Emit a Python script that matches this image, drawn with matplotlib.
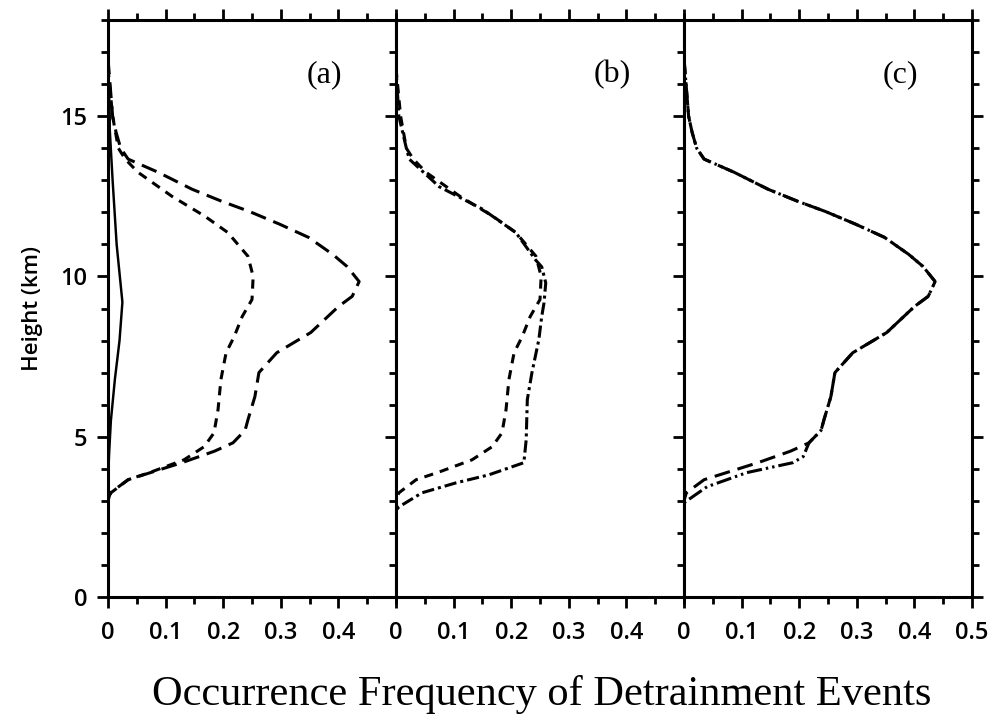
import matplotlib
matplotlib.use("Agg")
import matplotlib.pyplot as plt
from matplotlib.ticker import MultipleLocator

# long-dashed profile (panels a and c)
h_long = [16.8, 15.0, 14.5, 14.0, 13.66, 13.25, 12.72, 12.34, 12.03, 11.63, 11.22,
          10.69, 10.31, 9.84, 9.38, 9.06, 8.25, 7.62, 7.0, 6.25, 5.53, 5.2, 4.81,
          4.55, 4.2, 3.66, 3.25, 3.0]
f_long = [0.0, 0.008, 0.014, 0.022, 0.035, 0.087, 0.146, 0.198, 0.245, 0.298, 0.348,
          0.39, 0.415, 0.436, 0.424, 0.40, 0.352, 0.293, 0.262, 0.255, 0.243, 0.238, 0.217,
          0.185, 0.13, 0.035, 0.004, 0.0]

# short-dashed profile (panels a and b)
h_short = [16.5, 15.0, 14.0, 13.66, 13.25, 12.5, 11.88, 11.37, 10.63, 10.0, 9.28,
           8.75, 8.12, 7.62, 6.78, 5.84, 5.12, 4.69, 4.28, 3.9, 3.66, 3.25, 3.05]
f_short = [0.0, 0.008, 0.018, 0.03, 0.052, 0.111, 0.168, 0.208, 0.243, 0.252, 0.25,
           0.233, 0.219, 0.205, 0.196, 0.191, 0.184, 0.167, 0.132, 0.075, 0.035, 0.005, 0.0]

# solid profile (panel a)
h_solid = [16.8, 15.0, 14.6, 13.0, 11.0, 9.2, 8.0, 6.8, 5.5, 4.5, 3.6]
f_solid = [0.0, 0.003, 0.003, 0.008, 0.015, 0.025, 0.02, 0.012, 0.005, 0.002, 0.0]

# dash-dot profile (panel b)
h_dd = [16.5, 15.0, 14.0, 13.66, 12.8, 12.1, 11.37, 10.5, 10.3, 9.8, 9.18, 8.75,
        8.03, 7.0, 6.16, 4.9, 4.19, 3.81, 3.56, 3.25, 2.81, 2.7]
f_dd = [0.0, 0.005, 0.018, 0.023, 0.075, 0.15, 0.208, 0.243, 0.253, 0.26, 0.257, 0.253,
        0.248, 0.236, 0.228, 0.226, 0.222, 0.161, 0.104, 0.045, 0.005, 0.0]

# dash-dot-dot profile (panel c)
h_ddd = [16.8, 15.0, 14.5, 14.0, 13.66, 13.25, 12.72, 12.34, 12.03, 11.63, 11.22,
         10.69, 10.31, 9.84, 9.38, 9.06, 8.25, 7.62, 7.0, 6.25, 5.53, 5.2, 4.81,
         4.38, 4.19, 3.88, 3.44, 2.94]
f_ddd = [0.0, 0.008, 0.014, 0.022, 0.035, 0.087, 0.146, 0.198, 0.245, 0.298, 0.348,
         0.39, 0.415, 0.436, 0.424, 0.40, 0.352, 0.293, 0.262, 0.255, 0.243, 0.238, 0.217,
         0.207, 0.189, 0.109, 0.04, 0.0]

panel_labels = ["(a)", "(b)", "(c)"]
ytick_vals = [0, 5, 10, 15]
xtick_short = [0, 0.1, 0.2, 0.3, 0.4]
xtick_full = [0, 0.1, 0.2, 0.3, 0.4, 0.5]

lw = 2.2
long_dash = (5.2, 2.6)
short_dash = (3.0, 2.3)
dash_dot = (4.0, 1.3, 1.0, 1.3)
dash_dot_dot = (5.0, 1.3, 0.8, 1.3, 0.8, 1.3)

tick_font = {"family": "Open Sans", "weight": "semibold", "size": 17}

fig = plt.figure(figsize=(9.93, 7.26), dpi=100)
W, H = 993, 726
lefts = [108, 396, 684]
axes = []
for i, l in enumerate(lefts):
    ax = fig.add_axes([l / W, (H - 597) / H, 288 / W, 577 / H])
    axes.append(ax)

axes[0].plot(f_solid, h_solid, color="black", lw=lw * 0.8)
axes[0].plot(f_short, h_short, color="black", lw=lw, dashes=short_dash)
axes[0].plot(f_long, h_long, color="black", lw=lw, dashes=long_dash)

axes[1].plot(f_short, h_short, color="black", lw=lw, dashes=short_dash)
axes[1].plot(f_dd, h_dd, color="black", lw=lw, dashes=dash_dot)

axes[2].plot(f_long, h_long, color="black", lw=lw, dashes=long_dash)
axes[2].plot(f_ddd, h_ddd, color="black", lw=lw, dashes=dash_dot_dot)

for i, ax in enumerate(axes):
    ax.set_xlim(0, 0.5)
    ax.set_ylim(0, 18)
    for s in ax.spines.values():
        s.set_linewidth(2.2)
    ax.xaxis.set_minor_locator(MultipleLocator(0.05))
    ax.yaxis.set_minor_locator(MultipleLocator(1))
    ax.set_yticks(ytick_vals)
    xt = xtick_full if i == 2 else xtick_short
    ax.set_xticks(xt)
    ax.set_xticklabels(["0" if v == 0 else f"{v:.1f}" for v in xt], fontdict=tick_font)
    if i == 0:
        ax.set_yticklabels([str(v) for v in ytick_vals], fontdict=tick_font)
    ax.tick_params(which="both", direction="out", top=True, right=True, width=2)
    ax.tick_params(which="major", length=8)
    ax.tick_params(axis="x", which="major", pad=9)
    ax.tick_params(axis="y", which="major", pad=7)
    ax.tick_params(which="minor", length=5)
    if i > 0:
        ax.tick_params(axis="y", labelleft=False)
    ax.text(0.75, 0.905, panel_labels[i], transform=ax.transAxes, ha="center", va="center",
            fontsize=23, family="Liberation Serif")

axes[0].set_ylabel("Height (km)", fontsize=16, labelpad=12, family="Open Sans", weight="semibold")
fig.text(542 / W, 1 - 695 / H, "Occurrence Frequency of Detrainment Events",
         ha="center", va="center", fontsize=30.5, family="Liberation Serif")

fig.savefig("out.png", dpi=100)
